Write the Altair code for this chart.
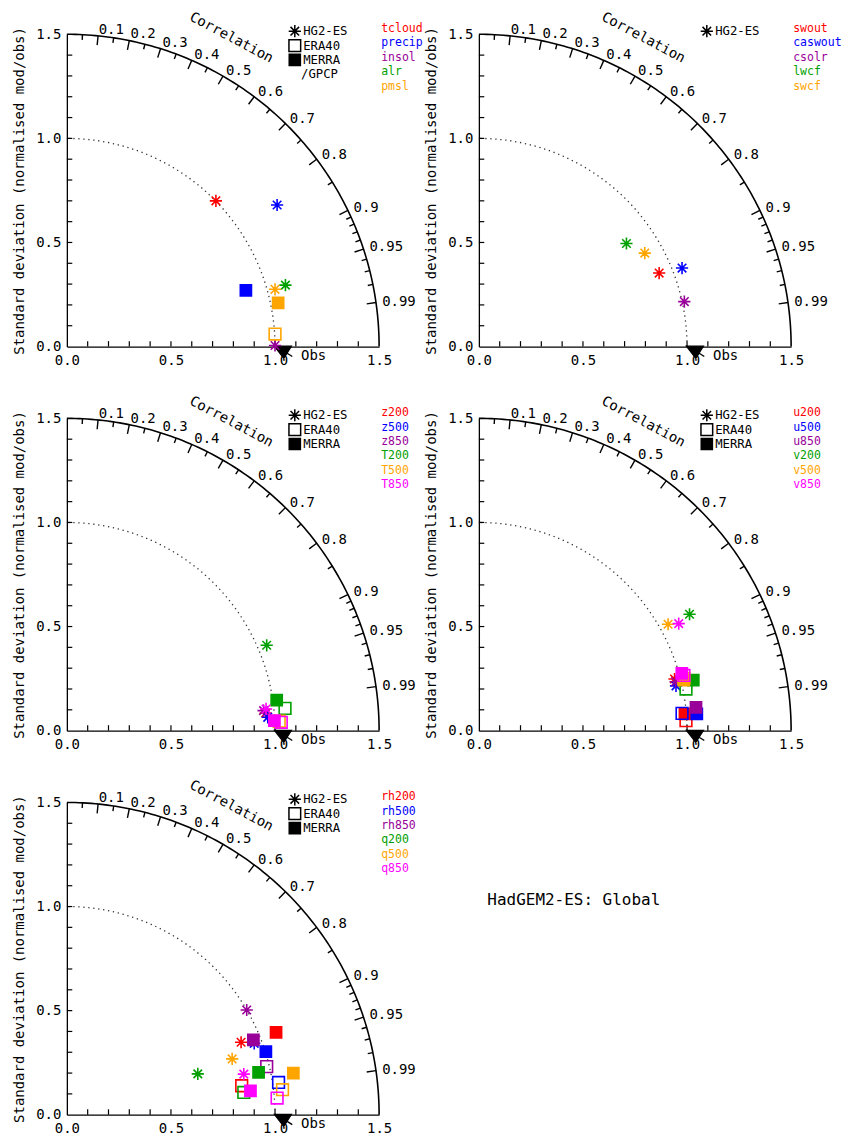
import altair as alt
import pandas as pd
import numpy as np

FONT = "DejaVu Sans Mono"
FS = 14
LFS = 12.3
NFS = 11.5
PX = 313

COLORS = ["#FF0000", "#0000FF", "#990099", "#00A000", "#FFA500", "#FF00FF"]
SETS = ["HG2-ES", "ERA40", "MERRA"]

# ---------------- data ----------------
# panel 1
p1_names = ["tcloud", "precip", "insol", "alr", "pmsl"]
p1_var = [0, 1, 1, 2, 3, 4, 4, 4]
p1_set = ["HG2-ES", "HG2-ES", "MERRA", "HG2-ES", "HG2-ES", "HG2-ES", "ERA40", "MERRA"]
p1_x = [0.716, 1.01, 0.86, 1.0, 1.05, 1.0, 1.0, 1.015]
p1_y = [0.70, 0.68, 0.27, 0.005, 0.295, 0.275, 0.06, 0.21]

# panel 2
p2_names = ["swout", "caswout", "csolr", "lwcf", "swcf"]
p2_var = [0, 1, 2, 3, 4]
p2_set = ["HG2-ES", "HG2-ES", "HG2-ES", "HG2-ES", "HG2-ES"]
p2_x = [0.866, 0.976, 0.987, 0.709, 0.797]
p2_y = [0.353, 0.377, 0.216, 0.495, 0.449]

# panel 3
p3_names = ["z200", "z500", "z850", "T200", "T500", "T850"]
p3_var = [0, 1, 2, 3, 3, 3, 4, 5, 5, 5]
p3_set = ["HG2-ES", "HG2-ES", "HG2-ES", "HG2-ES", "ERA40", "MERRA", "ERA40",
          "HG2-ES", "MERRA", "ERA40"]
p3_x = [0.955, 0.965, 0.945, 0.96, 1.048, 1.008, 1.02, 0.957, 0.997, 1.03]
p3_y = [0.085, 0.064, 0.096, 0.41, 0.107, 0.147, 0.045, 0.104, 0.048, 0.04]

# panel 4
p4_names = ["u200", "u500", "u850", "v200", "v500", "v850"]
p4_var = [0, 0, 0, 1, 1, 1, 2, 2, 3, 3, 3, 4, 4, 4, 5, 5, 5]
p4_set = ["HG2-ES", "ERA40", "MERRA", "HG2-ES", "ERA40", "MERRA", "HG2-ES", "MERRA",
          "HG2-ES", "ERA40", "MERRA", "HG2-ES", "ERA40", "MERRA", "HG2-ES", "ERA40", "MERRA"]
p4_x = [0.94, 0.995, 0.99, 0.947, 0.976, 1.047, 0.945, 1.043,
        1.012, 0.995, 1.03, 0.909, 0.985, 0.984, 0.96, 0.985, 0.975]
p4_y = [0.248, 0.048, 0.08, 0.215, 0.083, 0.08, 0.235, 0.112,
        0.559, 0.2, 0.243, 0.511, 0.25, 0.243, 0.514, 0.265, 0.275]

# panel 5
p5_names = ["rh200", "rh500", "rh850", "q200", "q500", "q850"]
p5_var = [0, 0, 0, 1, 1, 1, 2, 2, 2, 3, 3, 3, 4, 4, 4, 5, 5, 5]
p5_set = ["HG2-ES", "ERA40", "MERRA"] * 6
p5_x = [0.837, 0.84, 1.005, 0.90, 1.017, 0.956, 0.864, 0.96, 0.896,
        0.629, 0.85, 0.921, 0.794, 1.036, 1.088, 0.85, 1.01, 0.882]
p5_y = [0.348, 0.139, 0.396, 0.343, 0.155, 0.303, 0.503, 0.231, 0.36,
        0.196, 0.107, 0.203, 0.268, 0.12, 0.2, 0.195, 0.08, 0.115]

corr_major = [0.1, 0.2, 0.3, 0.4, 0.5, 0.6, 0.7, 0.8, 0.9, 0.95, 0.99]
corr_labels = ["0.1", "0.2", "0.3", "0.4", "0.5", "0.6", "0.7", "0.8", "0.9", "0.95", "0.99"]
corr_minor = [0.05, 0.15, 0.25, 0.35, 0.45, 0.55, 0.65, 0.75, 0.85,
              0.91, 0.92, 0.93, 0.94, 0.96, 0.97, 0.98]
axis_ticks = [0.1, 0.2, 0.3, 0.4, 0.6, 0.7, 0.8, 0.9, 1.1, 1.2, 1.3, 1.4, 0.5, 1.0]
axis_labels = [0.0, 0.5, 1.0, 1.5]

AST = "M-1,0L1,0M0,-1L0,1M-0.7,-0.7L0.7,0.7M-0.7,0.7L0.7,-0.7"
OBS = "M-1,-0.55L0.9,-0.55L0.05,0.8ZM0.3,0.15L1.0,0.6"

# ---------------- geometry ----------------
ang = np.linspace(0, np.pi / 2, 121)
arc_outer = pd.DataFrame({"x": 1.5 * np.cos(ang), "y": 1.5 * np.sin(ang), "o": np.arange(len(ang))})
arc_unit = pd.DataFrame({"x": np.cos(ang), "y": np.sin(ang), "o": np.arange(len(ang))})

def tick_df(vals, r0, r1):
    c = np.array(vals)
    s = np.sqrt(1 - c ** 2)
    return pd.DataFrame({"x": r0 * c, "y": r0 * s, "x2": r1 * c, "y2": r1 * s})

ticks_corr = pd.concat([tick_df(corr_major, 1.5, 1.455), tick_df(corr_minor, 1.5, 1.475)])
cl = np.array(corr_major)
corr_lab_df = pd.DataFrame({"x": 1.53 * cl, "y": 1.53 * np.sqrt(1 - cl ** 2), "t": corr_labels})

TL = 0.026
xt_df = pd.DataFrame({"x": axis_ticks, "y": [0.0] * len(axis_ticks), "x2": axis_ticks, "y2": [TL] * len(axis_ticks)})
yt_df = pd.DataFrame({"x": [0.0] * len(axis_ticks), "y": axis_ticks, "x2": [TL] * len(axis_ticks), "y2": axis_ticks})

XS = alt.Scale(domain=[0, 1.5], nice=False, zero=False)
YS = alt.Scale(domain=[0, 1.5], nice=False, zero=False)
XAX = alt.Axis(values=axis_labels, format=".1f", title=None, labelPadding=7, labelFlush=False)
YAX = alt.Axis(values=axis_labels, format=".1f", title="Standard deviation (normalised mod/obs)",
               labelPadding=6, titlePadding=9, labelFlush=False)
X = alt.X("x:Q", scale=XS, axis=XAX)
Y = alt.Y("y:Q", scale=YS, axis=YAX)

shape_scale = alt.Scale(domain=SETS, range=[AST, "square", "square"])
size_scale = alt.Scale(domain=SETS, range=[150, 125, 165])


def panel(names, var, sets, xs, ys, legend_sets, extra=None):
    layers = []
    layers.append(alt.Chart(arc_outer).mark_line(color="black", strokeWidth=1.6).encode(x=X, y=Y, order="o:Q"))
    layers.append(alt.Chart(arc_unit).mark_line(color="#333333", strokeWidth=1.3, strokeDash=[1.3, 3.7]).encode(x=X, y=Y, order="o:Q"))
    layers.append(alt.Chart(ticks_corr).mark_rule(color="black", strokeWidth=1.4).encode(x=X, y=Y, x2="x2:Q", y2="y2:Q"))
    layers.append(alt.Chart(xt_df).mark_rule(color="black", strokeWidth=1.2).encode(x=X, y=Y, x2="x2:Q", y2="y2:Q"))
    layers.append(alt.Chart(yt_df).mark_rule(color="black", strokeWidth=1.2).encode(x=X, y=Y, x2="x2:Q", y2="y2:Q"))
    layers.append(alt.Chart(corr_lab_df).mark_text(align="left", baseline="middle", font=FONT, fontSize=FS, color="black")
                  .encode(x=X, y=Y, text="t:N"))
    layers.append(alt.Chart(pd.DataFrame({"x": [0.79], "y": [1.483], "t": ["Correlation"]}))
                  .mark_text(align="center", baseline="middle", font=FONT, fontSize=FS, angle=28, color="black")
                  .encode(x=X, y=Y, text="t:N"))
    layers.append(alt.Chart(pd.DataFrame({"x": [1.04], "y": [-0.022]}))
                  .mark_point(shape=OBS, filled=True, fill="black", stroke="black", strokeWidth=1.3, size=320, opacity=1)
                  .encode(x=X, y=Y))
    layers.append(alt.Chart(pd.DataFrame({"x": [1.125], "y": [-0.045], "t": ["Obs"]}))
                  .mark_text(align="left", baseline="middle", font=FONT, fontSize=FS, color="black")
                  .encode(x=X, y=Y, text="t:N"))
    # data points
    df = pd.DataFrame({
        "x": xs, "y": ys, "set": sets,
        "col": [COLORS[v] for v in var],
        "fillc": [COLORS[v] if s == "MERRA" else "transparent" for v, s in zip(var, sets)],
        "i": list(range(len(xs))),
    })
    layers.append(alt.Chart(df).mark_point(strokeWidth=1.6, opacity=1).encode(
        x=X, y=Y,
        shape=alt.Shape("set:N", scale=shape_scale, legend=None),
        size=alt.Size("set:N", scale=size_scale, legend=None),
        stroke=alt.Stroke("col:N", scale=None),
        fill=alt.Fill("fillc:N", scale=None),
        order=alt.Order("i:Q"),
    ))
    # legend: datasets
    n = len(legend_sets)
    leg = pd.DataFrame({
        "x": [1.095] * n, "xt": [1.135] * n,
        "y": [1.515 - 0.069 * k for k in range(n)],
        "set": legend_sets,
        "fillc": ["black" if s == "MERRA" else "transparent" for s in legend_sets],
    })
    layers.append(alt.Chart(leg).mark_point(strokeWidth=1.5, stroke="black", opacity=1).encode(
        x=X, y=Y,
        shape=alt.Shape("set:N", scale=shape_scale, legend=None),
        size=alt.Size("set:N", scale=size_scale, legend=None),
        fill=alt.Fill("fillc:N", scale=None),
    ))
    layers.append(alt.Chart(leg).mark_text(align="left", baseline="middle", font=FONT, fontSize=LFS, color="black")
                  .encode(x=alt.X("xt:Q", scale=XS, axis=XAX), y=Y, text="set:N"))
    if extra is not None:
        layers.append(alt.Chart(pd.DataFrame({"x": [1.125], "y": [1.515 - 0.069 * n], "t": [extra]}))
                      .mark_text(align="left", baseline="middle", font=FONT, fontSize=LFS, color="black")
                      .encode(x=X, y=Y, text="t:N"))
    # legend: variable names
    m = len(names)
    nm = pd.DataFrame({"x": [1.51] * m, "y": [1.525 - 0.069 * k for k in range(m)],
                       "t": names, "col": COLORS[:m]})
    layers.append(alt.Chart(nm).mark_text(align="left", baseline="middle", font=FONT, fontSize=NFS)
                  .encode(x=X, y=Y, text="t:N", color=alt.Color("col:N", scale=None)))
    return layers


p1 = alt.layer(*panel(p1_names, p1_var, p1_set, p1_x, p1_y, ["HG2-ES", "ERA40", "MERRA"], "/GPCP")).properties(width=PX, height=PX)
p2 = alt.layer(*panel(p2_names, p2_var, p2_set, p2_x, p2_y, ["HG2-ES"])).properties(width=PX, height=PX)
p3 = alt.layer(*panel(p3_names, p3_var, p3_set, p3_x, p3_y, ["HG2-ES", "ERA40", "MERRA"])).properties(width=PX, height=PX)
p4 = alt.layer(*panel(p4_names, p4_var, p4_set, p4_x, p4_y, ["HG2-ES", "ERA40", "MERRA"])).properties(width=PX, height=PX)
p5_layers = panel(p5_names, p5_var, p5_set, p5_x, p5_y, ["HG2-ES", "ERA40", "MERRA"])
p5_layers.append(alt.Chart(pd.DataFrame({"x": [2.02], "y": [1.03], "t": ["HadGEM2-ES: Global"]}))
                 .mark_text(align="left", baseline="middle", font=FONT, fontSize=16, color="black")
                 .encode(x=X, y=Y, text="t:N"))
p5 = alt.layer(*p5_layers).properties(width=PX, height=PX)

chart = (
    alt.concat(p1, p2, p3, p4, p5, columns=2, spacing={"row": 72, "column": 100}, bounds="flush")
    .properties(padding={"left": 4, "top": 0, "right": 0, "bottom": 5})
    .configure_view(stroke=None)
    .configure_axis(
        labelFont=FONT, labelFontSize=FS, labelColor="black",
        titleFont=FONT, titleFontSize=FS, titleFontWeight="normal", titleColor="black",
        domainColor="black", domainWidth=1.3, ticks=False, grid=False,
    )
)

chart.save("out.html", embed_options={"renderer": "svg", "actions": False})
